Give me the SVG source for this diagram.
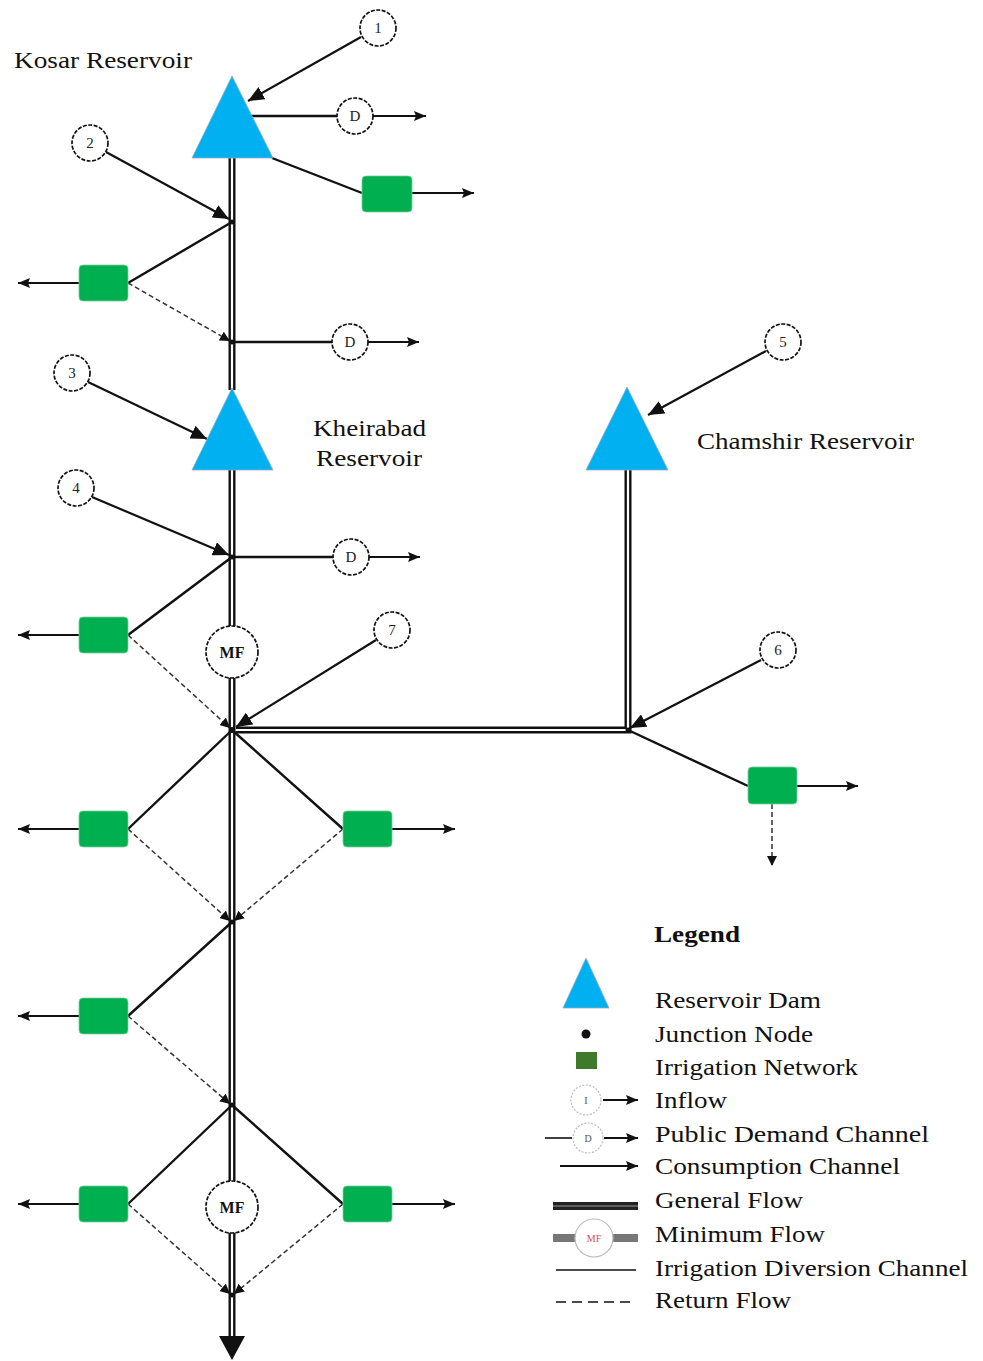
<svg xmlns="http://www.w3.org/2000/svg" width="983" height="1361" viewBox="0 0 983 1361">
<style>
.lbl{font-family:"Liberation Serif","Times New Roman",serif;font-size:23px;fill:#111}
.num{font-family:"Liberation Serif","Times New Roman",serif;font-size:15px;fill:#222;text-anchor:middle}
.mf{font-family:"Liberation Serif","Times New Roman",serif;font-size:16px;font-weight:bold;fill:#111;text-anchor:middle}
.circ{fill:#fff;stroke:#111;stroke-width:1.7;stroke-dasharray:4 1.5}
.dam{fill:#00B0F0;stroke:#9ab;stroke-width:0.8}
.irr{fill:#00B050;stroke:#7c9;stroke-width:0.8}
.gfo{fill:none;stroke:#111;stroke-width:7;stroke-linejoin:miter}
.gfi{fill:none;stroke:#fff;stroke-width:2.2;stroke-linejoin:miter}
.inf{stroke:#111;stroke-width:2.2;fill:none;marker-end:url(#ah-big)}
.con{stroke:#111;stroke-width:2;fill:none;marker-end:url(#ah-sm)}
.div{stroke:#111;stroke-width:2.4;fill:none}
.ret{stroke:#333;stroke-width:1.5;fill:none;stroke-dasharray:5 3;marker-end:url(#ah-ret)}
.jn{fill:#111}
</style>
<defs>
<marker id="ah-big" markerUnits="userSpaceOnUse" markerWidth="18" markerHeight="14" refX="16" refY="7" orient="auto"><path d="M0,0 L16,7 L0,14 Z" fill="#111"/></marker>
<marker id="ah-sm" markerUnits="userSpaceOnUse" markerWidth="14" markerHeight="10" refX="12" refY="5" orient="auto"><path d="M0,0 L12,5 L0,10 L2,5 Z" fill="#111"/></marker>
<marker id="ah-ret" markerUnits="userSpaceOnUse" markerWidth="12" markerHeight="10" refX="10" refY="5" orient="auto"><path d="M0,0 L10,5 L0,10 Z" fill="#111"/></marker>
</defs>

<g id="connectors">
  <path class="gfo" d="M628,470 L628,730 L236,730"/>
  <path class="gfi" d="M628,470 L628,730 L236,730"/>
  <path class="gfo" d="M232,150 L232,390 M232,465 L232,1340"/>
  <path class="gfi" d="M232,150 L232,390 M232,465 L232,1340"/>
  <path d="M219,1336 L245,1336 L232,1360 Z" fill="#111"/>

  <line class="inf" x1="361" y1="37" x2="248" y2="101"/>
  <line class="inf" x1="106" y1="152" x2="229" y2="219"/>
  <line class="inf" x1="88" y1="382" x2="207" y2="439"/>
  <line class="inf" x1="92" y1="497" x2="229" y2="555"/>
  <line class="inf" x1="376" y1="640" x2="236" y2="727"/>
  <line class="inf" x1="766" y1="351" x2="648" y2="415"/>
  <line class="inf" x1="761" y1="660" x2="630" y2="728"/>

  <line class="div" x1="251" y1="116" x2="337" y2="116"/>
  <line class="con" x1="373" y1="116" x2="426" y2="116"/>
  <line class="div" x1="232" y1="342" x2="332" y2="342"/>
  <line class="con" x1="368" y1="342" x2="419" y2="342"/>
  <line class="div" x1="232" y1="557" x2="333" y2="557"/>
  <line class="con" x1="369" y1="557" x2="420" y2="557"/>

  <line class="div" x1="272" y1="158" x2="362" y2="193"/>
  <line class="div" x1="232" y1="222" x2="128" y2="283"/>
  <line class="div" x1="232" y1="557" x2="128" y2="635"/>
  <line class="div" x1="628" y1="730" x2="748" y2="786"/>
  <line class="div" x1="232" y1="730" x2="128" y2="829"/>
  <line class="div" x1="232" y1="730" x2="343" y2="829"/>
  <line class="div" x1="232" y1="922" x2="128" y2="1016"/>
  <line class="div" x1="232" y1="1105" x2="128" y2="1204"/>
  <line class="div" x1="232" y1="1105" x2="343" y2="1204"/>

  <line class="con" x1="412" y1="193" x2="474" y2="193"/>
  <line class="con" x1="79" y1="283" x2="18" y2="283"/>
  <line class="con" x1="79" y1="635" x2="18" y2="635"/>
  <line class="con" x1="797" y1="786" x2="858" y2="786"/>
  <line class="con" x1="79" y1="829" x2="18" y2="829"/>
  <line class="con" x1="392" y1="829" x2="455" y2="829"/>
  <line class="con" x1="79" y1="1016" x2="18" y2="1016"/>
  <line class="con" x1="79" y1="1204" x2="18" y2="1204"/>
  <line class="con" x1="392" y1="1204" x2="455" y2="1204"/>

  <line class="ret" x1="128" y1="283" x2="230" y2="341"/>
  <line class="ret" x1="128" y1="635" x2="230" y2="728"/>
  <line class="ret" x1="772" y1="804" x2="772" y2="866"/>
  <line class="ret" x1="128" y1="829" x2="230" y2="921"/>
  <line class="ret" x1="343" y1="829" x2="234" y2="921"/>
  <line class="ret" x1="128" y1="1016" x2="230" y2="1104"/>
  <line class="ret" x1="128" y1="1204" x2="230" y2="1294"/>
  <line class="ret" x1="343" y1="1204" x2="234" y2="1294"/>
</g>

<g id="kosar"><polygon class="dam" points="232,76 192,158 273,158"/><text class="lbl" x="14" y="68" textLength="178" lengthAdjust="spacingAndGlyphs">Kosar Reservoir</text></g>
<g id="kheirabad"><polygon class="dam" points="232,388 192,470 273,470"/><text class="lbl" x="313" y="436" textLength="113" lengthAdjust="spacingAndGlyphs">Kheirabad</text><text class="lbl" x="316" y="466" textLength="106" lengthAdjust="spacingAndGlyphs">Reservoir</text></g>
<g id="chamshir"><polygon class="dam" points="627,387 586,470 668,470"/><text class="lbl" x="697" y="449" textLength="217" lengthAdjust="spacingAndGlyphs">Chamshir Reservoir</text></g>

<g id="in1"><circle class="circ" cx="378" cy="28" r="18"/><text class="num" x="378" y="33">1</text></g>
<g id="in2"><circle class="circ" cx="90" cy="143" r="18"/><text class="num" x="90" y="148">2</text></g>
<g id="in3"><circle class="circ" cx="72" cy="373" r="18"/><text class="num" x="72" y="378">3</text></g>
<g id="in4"><circle class="circ" cx="76" cy="488" r="18"/><text class="num" x="76" y="493">4</text></g>
<g id="in5"><circle class="circ" cx="783" cy="342" r="18"/><text class="num" x="783" y="347">5</text></g>
<g id="in6"><circle class="circ" cx="778" cy="650" r="18"/><text class="num" x="778" y="655">6</text></g>
<g id="in7"><circle class="circ" cx="392" cy="630" r="18"/><text class="num" x="392" y="635">7</text></g>

<g id="d1"><circle class="circ" cx="355" cy="116" r="18"/><text class="num" x="355" y="121">D</text></g>
<g id="d2"><circle class="circ" cx="350" cy="342" r="18"/><text class="num" x="350" y="347">D</text></g>
<g id="d3"><circle class="circ" cx="351" cy="557" r="18"/><text class="num" x="351" y="562">D</text></g>

<g id="mf1"><circle class="circ" cx="232" cy="652" r="26"/><text class="mf" x="232" y="658">MF</text></g>
<g id="mf2"><circle class="circ" cx="232" cy="1207" r="26"/><text class="mf" x="232" y="1213">MF</text></g>

<g id="irr1"><rect class="irr" x="362" y="176" width="50" height="36" rx="4"/></g>
<g id="irr2"><rect class="irr" x="79" y="265" width="49" height="36" rx="4"/></g>
<g id="irr3"><rect class="irr" x="79" y="617" width="49" height="36" rx="4"/></g>
<g id="irr4"><rect class="irr" x="748" y="767" width="49" height="37" rx="4"/></g>
<g id="irr5"><rect class="irr" x="79" y="811" width="49" height="36" rx="4"/></g>
<g id="irr6"><rect class="irr" x="343" y="811" width="49" height="36" rx="4"/></g>
<g id="irr7"><rect class="irr" x="79" y="998" width="49" height="36" rx="4"/></g>
<g id="irr8"><rect class="irr" x="79" y="1186" width="49" height="36" rx="4"/></g>
<g id="irr9"><rect class="irr" x="343" y="1186" width="49" height="36" rx="4"/></g>

<g id="junctions">
<circle class="jn" cx="232" cy="222" r="2.5"/><circle class="jn" cx="232" cy="342" r="2.5"/>
<circle class="jn" cx="232" cy="557" r="2.5"/><circle class="jn" cx="232" cy="730" r="3"/>
<circle class="jn" cx="628" cy="730" r="2.5"/><circle class="jn" cx="232" cy="922" r="2.5"/>
<circle class="jn" cx="232" cy="1105" r="2.5"/><circle class="jn" cx="232" cy="1295" r="2.5"/>
</g>

<g id="legend">
<text class="lbl" x="654" y="942" font-weight="bold" textLength="86" lengthAdjust="spacingAndGlyphs">Legend</text>
<polygon class="dam" points="586,958 563,1008 609,1008"/>
<text class="lbl" x="655" y="1008" textLength="166" lengthAdjust="spacingAndGlyphs">Reservoir Dam</text>
<circle cx="586" cy="1034" r="4.5" fill="#111"/>
<text class="lbl" x="655" y="1042" textLength="158" lengthAdjust="spacingAndGlyphs">Junction Node</text>
<rect x="576" y="1052" width="21" height="17" fill="#3F7A2C"/>
<text class="lbl" x="655" y="1075" textLength="203" lengthAdjust="spacingAndGlyphs">Irrigation Network</text>
<circle cx="586" cy="1100" r="15" fill="#fff" stroke="#bbb" stroke-width="1.2" stroke-dasharray="2 1.5"/>
<text x="586" y="1104" font-family="Liberation Serif, serif" font-size="10" fill="#555" text-anchor="middle">I</text>
<line class="con" x1="603" y1="1100" x2="638" y2="1100" stroke-width="1.6"/>
<text class="lbl" x="655" y="1108" textLength="72" lengthAdjust="spacingAndGlyphs">Inflow</text>
<line x1="545" y1="1138" x2="572" y2="1138" stroke="#111" stroke-width="1.6"/>
<circle cx="588" cy="1138" r="15" fill="#fff" stroke="#bbb" stroke-width="1.2" stroke-dasharray="2 1.5"/>
<text x="588" y="1142" font-family="Liberation Serif, serif" font-size="10" fill="#555" text-anchor="middle">D</text>
<line class="con" x1="604" y1="1138" x2="638" y2="1138" stroke-width="1.6"/>
<text class="lbl" x="655" y="1142" textLength="274" lengthAdjust="spacingAndGlyphs">Public Demand  Channel</text>
<line class="con" x1="560" y1="1166" x2="638" y2="1166" stroke-width="1.6"/>
<text class="lbl" x="655" y="1174" textLength="245" lengthAdjust="spacingAndGlyphs">Consumption Channel</text>
<line x1="553" y1="1206" x2="638" y2="1206" stroke="#222" stroke-width="8"/>
<line x1="553" y1="1206" x2="638" y2="1206" stroke="#999" stroke-width="1.2"/>
<text class="lbl" x="655" y="1208" textLength="148" lengthAdjust="spacingAndGlyphs">General Flow</text>
<line x1="553" y1="1238" x2="576" y2="1238" stroke="#777" stroke-width="8"/>
<line x1="612" y1="1238" x2="638" y2="1238" stroke="#777" stroke-width="8"/>
<circle cx="594" cy="1238" r="19" fill="#fff" stroke="#bbb" stroke-width="1.2"/>
<text x="594" y="1242" font-family="Liberation Serif, serif" font-size="10" fill="#c55" text-anchor="middle">MF</text>
<text class="lbl" x="655" y="1242" textLength="170" lengthAdjust="spacingAndGlyphs">Minimum Flow</text>
<line x1="556" y1="1270" x2="636" y2="1270" stroke="#111" stroke-width="1.6"/>
<text class="lbl" x="655" y="1276" textLength="313" lengthAdjust="spacingAndGlyphs">Irrigation Diversion Channel</text>
<line x1="556" y1="1302" x2="636" y2="1302" stroke="#111" stroke-width="1.6" stroke-dasharray="10 6"/>
<text class="lbl" x="655" y="1308" textLength="136" lengthAdjust="spacingAndGlyphs">Return Flow</text>
</g>
</svg>
